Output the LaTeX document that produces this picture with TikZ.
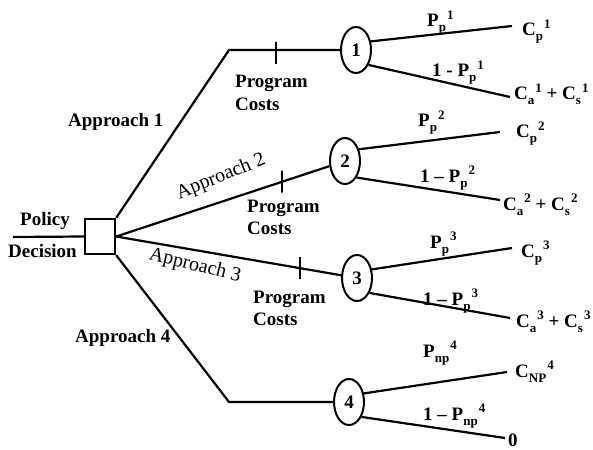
\documentclass[tikz,border=0pt]{standalone}
\usepackage{fontspec}
\setmainfont{Liberation Serif}
\usetikzlibrary{shapes.geometric,calc}
% base letter, subscript, then a raised superscript set after it
\newcommand\subsup[3]{#1\raisebox{-5pt}{\fontsize{13}{13}\selectfont #2}\raisebox{7.5pt}{\fontsize{13}{13}\selectfont\kern1pt #3}}
\begin{document}
\begin{tikzpicture}[x=1pt,y=-1pt,
  branch/.style={line width=2.2pt},
  chance/.style={ellipse, draw, line width=2pt, minimum width=30pt, minimum height=46pt,
    inner sep=0pt, font=\fontsize{19}{19}\selectfont\bfseries},
  decision/.style={rectangle, draw, line width=2.4pt, minimum width=30pt, minimum height=35pt, inner sep=0pt},
  lbl/.style={anchor=base west, inner sep=0pt, font=\fontsize{19}{19}\selectfont\bfseries},
  apr/.style={inner sep=0pt, font=\fontsize{20}{20}\selectfont},
  tickmark/.style={rectangle, draw, line width=2.2pt, minimum width=0pt, minimum height=22pt, inner sep=0pt}
]
\useasboundingbox (0,0) rectangle (593,449);

% decision node and its input
\node[decision] (dec) at (100,236.5) {};
\coordinate (in) at (13,237);
\draw[branch] (in) -- (dec.west);
\node[lbl] (pol) at (20,225) {Policy};
\node[lbl] (decl) at (8,257) {Decision};

% chance nodes
\node[chance] (n1) at (356,50) {1};
\node[chance] (n2) at (345,161) {2};
\node[chance] (n3) at (357,278) {3};
\node[chance] (n4) at (349,402) {4};

% approach branches
\coordinate (b1) at (229,50);
\coordinate (b4) at (229,402);
\draw[branch] (dec.north east) -- (b1) -- (n1);
\draw[branch] (dec.east) -- (n2);
\draw[branch] (dec.east) -- (n3);
\draw[branch] (dec.south east) -- (b4) -- (n4);

% program cost marks
\node[tickmark] (t1) at (276,53) {};
\node[tickmark] (t2) at ($(dec.east)!0.726!(n2.center)$) {};
\node[tickmark] (t3) at ($(dec.east)!0.764!(n3.center)$) {};

\node[lbl] (a1) at (68,127) {Approach 1};
\node[lbl] (a4) at (75,342) {Approach 4};
\node[apr, rotate=22] (a2) at (221,177) {Approach 2};
\node[apr, rotate=-14] (a3) at (195,266) {Approach 3};

\node[lbl] (pc1a) at (235,88) {Program};
\node[lbl] (pc1b) at (235,111) {Costs};
\node[lbl] (pc2a) at (247,212) {Program};
\node[lbl] (pc2b) at (247,234) {Costs};
\node[lbl] (pc3a) at (253,303) {Program};
\node[lbl] (pc3b) at (253,325) {Costs};

% outcome branches
\coordinate (e1u) at (512,26);  \coordinate (e1l) at (510,97);
\coordinate (e2u) at (500,132); \coordinate (e2l) at (500,200);
\coordinate (e3u) at (512,248); \coordinate (e3l) at (510,318);
\coordinate (e4u) at (507,372); \coordinate (e4l) at (505,438);
\draw[branch] (n1.30) -- (e1u);  \draw[branch] (n1.-50) -- (e1l);
\draw[branch] (n2.40) -- (e2u);  \draw[branch] (n2.-55) -- (e2l);
\draw[branch] (n3.30) -- (e3u);  \draw[branch] (n3.-50) -- (e3l);
\draw[branch] (n4.30) -- (e4u);  \draw[branch] (n4.-50) -- (e4l);

% probabilities
\node[lbl] (p1u) at (427,27)  {\subsup{P}{p}{1}};
\node[lbl] (p1l) at (432,77)  {1 - \subsup{P}{p}{1}};
\node[lbl] (p2u) at (418,127) {\subsup{P}{p}{2}};
\node[lbl] (p2l) at (420,182) {1 -- \subsup{P}{p}{2}};
\node[lbl] (p3u) at (430,248) {\subsup{P}{p}{3}};
\node[lbl] (p3l) at (423,305) {1 -- \subsup{P}{p}{3}};
\node[lbl] (p4u) at (423,357) {\subsup{P}{np}{4}};
\node[lbl] (p4l) at (423,420) {1 -- \subsup{P}{np}{4}};

% payoffs
\node[lbl] (c1u) at (522,36)  {\subsup{C}{p}{1}};
\node[lbl] (c1l) at (514,100) {\subsup{C}{a}{1} + \subsup{C}{s}{1}};
\node[lbl] (c2u) at (516,138) {\subsup{C}{p}{2}};
\node[lbl] (c2l) at (503,210) {\subsup{C}{a}{2} + \subsup{C}{s}{2}};
\node[lbl] (c3u) at (521,257) {\subsup{C}{p}{3}};
\node[lbl] (c3l) at (516,327) {\subsup{C}{a}{3} + \subsup{C}{s}{3}};
\node[lbl] (c4u) at (515,377) {\subsup{C}{NP}{4}};
\node[lbl] (c4l) at (508,446) {0};
\end{tikzpicture}
\end{document}
